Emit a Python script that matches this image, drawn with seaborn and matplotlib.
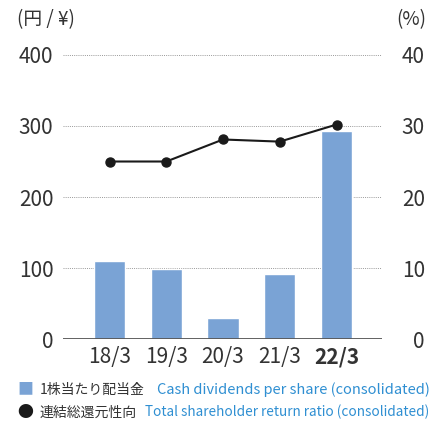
import matplotlib
matplotlib.use("Agg")
import matplotlib.pyplot as plt
import seaborn as sns
import pandas as pd

years = ["18/3", "19/3", "20/3", "21/3", "22/3"]
dividends = [110, 98, 30, 91, 293]
return_ratio = [25.0, 25.0, 28.1, 27.8, 30.2]
left_ticks = [0, 100, 200, 300, 400]
right_ticks = [0, 10, 20, 30, 40]

sns.set_style("white")
plt.rcParams['font.family'] = ['Noto Sans CJK JP', 'DejaVu Sans']

BAR = '#7aa3d5'
TXT = '#333333'
BLUE = '#2f8fd2'

df = pd.DataFrame({'year': years, 'dividend': dividends, 'ratio': return_ratio})

fig = plt.figure(figsize=(4.32, 4.26), dpi=100)
ax = fig.add_axes([0.146, 0.204, 0.738, 0.667])
sns.barplot(data=df, x='year', y='dividend', color=BAR, saturation=1, width=0.55, ax=ax)
ax.set_xlim(-0.82, 4.8)
ax.set_ylim(0, 400)
ax.set_yticks(left_ticks)
ax.set_xlabel('')
ax.set_ylabel('')
for s in ax.spines.values():
    s.set_visible(False)
for t in left_ticks[1:]:
    ax.axhline(t, color='#999999', lw=0.7, ls=(0, (1, 1.2)), zorder=0)
ax.axhline(0, color='#555555', lw=1.3, zorder=3)
ax.tick_params(axis='y', length=0, pad=7, labelsize=15, labelcolor=TXT)
ax.tick_params(axis='x', length=0, pad=5, labelsize=15, labelcolor=TXT)
for lab in ax.get_xticklabels():
    if lab.get_text() == '22/3':
        lab.set_fontweight('bold')

ax2 = ax.twinx()
ax2.plot(df['year'], df['ratio'], color='#1a1a1a', lw=1.5, marker='o', ms=6.5, clip_on=False, zorder=5)
ax2.set_ylim(0, 40)
ax2.set_yticks(right_ticks)
for s in ax2.spines.values():
    s.set_visible(False)
ax2.tick_params(axis='y', length=0, pad=31, labelsize=15, labelcolor=TXT)
for lab in ax2.get_yticklabels():
    lab.set_horizontalalignment('right')
ax2.grid(False)

fig.text(0.04, 0.953, '(円 / ¥)', fontsize=13.5, color=TXT, va='center')
fig.text(0.987, 0.953, '(%)', fontsize=13.5, color=TXT, va='center', ha='right')

fig.text(0.04, 0.085, '■', fontsize=11.5, color=BAR, va='center')
fig.text(0.092, 0.085, '1株当たり配当金', fontsize=10, color=TXT, va='center')
fig.text(0.994, 0.085, 'Cash dividends per share (consolidated)', fontsize=10.5, color=BLUE,
         va='center', ha='right')
fig.text(0.04, 0.032, '●', fontsize=11.5, color='#1a1a1a', va='center')
fig.text(0.092, 0.032, '連結総還元性向', fontsize=10, color=TXT, va='center')
fig.text(0.994, 0.032, 'Total shareholder return ratio (consolidated)', fontsize=9.8, color=BLUE,
         va='center', ha='right')

fig.savefig('out.png', dpi=100)
